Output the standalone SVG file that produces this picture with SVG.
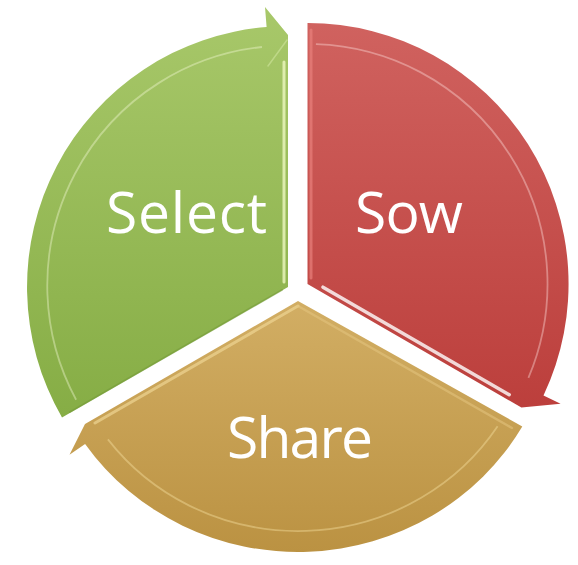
<svg xmlns="http://www.w3.org/2000/svg" width="578" height="565" viewBox="0 0 578 565">
  <defs>
    <linearGradient id="gGreen" x1="0" y1="0" x2="0" y2="1">
      <stop offset="0" stop-color="#A8C86A"/>
      <stop offset="1" stop-color="#86AD45"/>
    </linearGradient>
    <linearGradient id="gRed" x1="0" y1="0" x2="0" y2="1">
      <stop offset="0" stop-color="#D0625F"/>
      <stop offset="1" stop-color="#BC3F3C"/>
    </linearGradient>
    <linearGradient id="gGold" x1="0" y1="0" x2="0" y2="1">
      <stop offset="0" stop-color="#D2AE64"/>
      <stop offset="1" stop-color="#BB9242"/>
    </linearGradient>
  </defs>
  <style>
    .label { font-family: "Open Sans", "Liberation Sans", sans-serif; font-size: 57px; fill: #FFFFFF; text-anchor: middle; }
    .hl { fill: none; stroke-linecap: round; }
    .rim { fill: none; stroke-opacity: 0.4; stroke-width: 1.8; }
  </style>

  <g id="connectors"></g>

  <g id="node-select">
    <path d="M288,287 L62,417.5 A261,261 0 0 1 266.6,26.9 L265,6.9 L288,35 Z" fill="url(#gGreen)"/>
    <path class="rim" d="M76.1,399.7 A240,240 0 0 1 262,47" stroke="#F4FBD8"/>
    <path class="hl" d="M287,40 L268,66" stroke="#E6F4B8" stroke-width="1.5" stroke-opacity="0.4"/>
    <path class="hl" d="M284,62 L284,282" stroke="#EEF8C0" stroke-width="3" stroke-opacity="0.8"/>
    <path class="hl" d="M282,290 L70,412" stroke="#6E9536" stroke-width="2" stroke-opacity="0.45"/>
    <text class="label" x="186.5" y="233" textLength="161">Select</text>
  </g>

  <g id="node-sow">
    <path d="M307.5,284 L307.5,23 A261,261 0 0 1 543.5,395.6 L560.6,403.7 L521.4,407.5 Z" fill="url(#gRed)"/>
    <path class="rim" d="M315.9,44.1 A240,240 0 0 1 528.4,377.8" stroke="#FFE0DE"/>
    <path class="hl" d="M323,287.2 L509.2,394.7" stroke="#FFFFFF" stroke-width="3.5" stroke-opacity="0.8"/>
    <path class="hl" d="M311,30 L311,278" stroke="#E8807C" stroke-width="3" stroke-opacity="0.7"/>
    <text class="label" x="409" y="233" textLength="108">Sow</text>
  </g>

  <g id="node-share">
    <path d="M298,301 L522.3,426.5 A259,251 0 0 1 85.1,443.9 L69.5,454.7 L85,424 Z" fill="url(#gGold)"/>
    <path class="rim" d="M497.6,426.3 A238,230 0 0 1 107.9,439.4" stroke="#FBE7A8"/>
    <path class="hl" d="M298,306 L95,423" stroke="#EED493" stroke-width="3" stroke-opacity="0.7"/>
    <path class="hl" d="M298,306 L512,428" stroke="#E4C57F" stroke-width="2.5" stroke-opacity="0.55"/>
    <text class="label" x="300" y="458" textLength="146">Share</text>
  </g>
</svg>
